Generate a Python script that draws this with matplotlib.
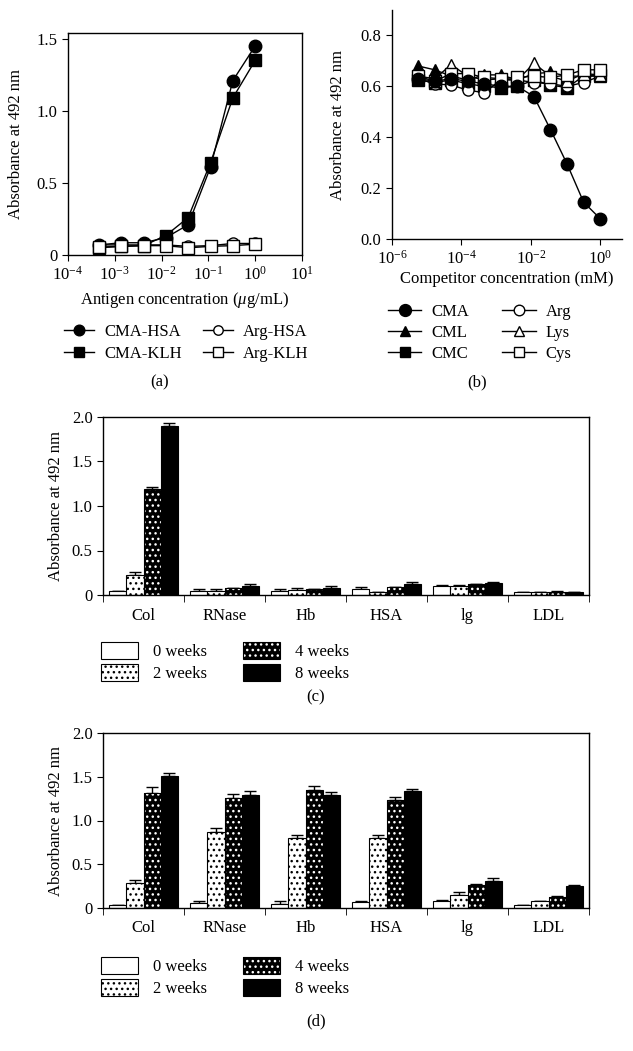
import numpy as np
import matplotlib
matplotlib.use("Agg")
import matplotlib.pyplot as plt
from matplotlib.patches import Patch
from matplotlib.legend_handler import HandlerTuple

plt.rcParams['font.family'] = ['Liberation Serif', 'DejaVu Serif']
plt.rcParams['mathtext.fontset'] = 'custom'
plt.rcParams['mathtext.rm'] = 'Liberation Serif'
plt.rcParams['mathtext.it'] = 'Liberation Serif:italic'
plt.rcParams['font.size'] = 12
plt.rcParams['axes.linewidth'] = 1.0
plt.rcParams['hatch.linewidth'] = 1.0

# ---- panel (a): antigen titration ----
antigen_conc = [0.000457, 0.00137, 0.00412, 0.0123, 0.037, 0.111, 0.333, 1.0]
cma_hsa = [0.07, 0.085, 0.085, 0.12, 0.21, 0.61, 1.21, 1.45]
cma_klh = [0.05, 0.06, 0.065, 0.135, 0.26, 0.64, 1.09, 1.35]
arg_hsa = [0.07, 0.07, 0.07, 0.07, 0.06, 0.065, 0.08, 0.08]
arg_klh = [0.055, 0.06, 0.065, 0.065, 0.05, 0.06, 0.065, 0.075]

# ---- panel (b): competition ----
comp_conc = [3.0 ** -k for k in range(11, -1, -1)]
cma = [0.63, 0.62, 0.63, 0.62, 0.61, 0.60, 0.60, 0.56, 0.43, 0.295, 0.145, 0.08]
cml = [0.68, 0.665, 0.64, 0.625, 0.645, 0.645, 0.625, 0.65, 0.655, 0.64, 0.64, 0.64]
cmc = [0.625, 0.615, 0.625, 0.61, 0.60, 0.595, 0.60, 0.625, 0.605, 0.595, 0.64, 0.645]
arg = [0.63, 0.61, 0.605, 0.585, 0.575, 0.625, 0.625, 0.615, 0.61, 0.60, 0.615, 0.64]
lys = [0.64, 0.63, 0.685, 0.64, 0.625, 0.63, 0.625, 0.69, 0.64, 0.62, 0.65, 0.645]
cys = [0.64, 0.62, 0.65, 0.65, 0.635, 0.63, 0.635, 0.64, 0.635, 0.645, 0.665, 0.665]

# ---- panels (c) and (d): bar charts ----
proteins = ['Col', 'RNase', 'Hb', 'HSA', 'lg', 'LDL']
weeks = ['0 weeks', '2 weeks', '4 weeks', '8 weeks']
c_vals = [[0.04, 0.045, 0.05, 0.07, 0.10, 0.03],
          [0.23, 0.05, 0.055, 0.035, 0.10, 0.03],
          [1.19, 0.08, 0.065, 0.085, 0.125, 0.035],
          [1.90, 0.10, 0.08, 0.125, 0.13, 0.035]]
c_err = [[0.0, 0.02, 0.015, 0.015, 0.015, 0.0],
         [0.025, 0.02, 0.02, 0.0, 0.01, 0.0],
         [0.02, 0.0, 0.0, 0.0, 0.0, 0.01],
         [0.03, 0.025, 0.02, 0.02, 0.015, 0.0]]
d_vals = [[0.04, 0.06, 0.05, 0.07, 0.08, 0.03],
          [0.29, 0.87, 0.80, 0.80, 0.15, 0.085],
          [1.31, 1.26, 1.35, 1.23, 0.265, 0.125],
          [1.51, 1.29, 1.29, 1.34, 0.31, 0.255]]
d_err = [[0.0, 0.02, 0.035, 0.015, 0.015, 0.0],
         [0.025, 0.05, 0.04, 0.04, 0.03, 0.0],
         [0.075, 0.045, 0.04, 0.04, 0.01, 0.01],
         [0.035, 0.045, 0.04, 0.02, 0.035, 0.01]]

W, H = 633, 1051
fig = plt.figure(figsize=(W / 100, H / 100), dpi=100)


def box(l, t, r, b):
    return [l / W, 1 - b / H, (r - l) / W, (b - t) / H]


def fig_y(y):
    return 1 - y / H


# panel a
ax = fig.add_axes(box(68, 33, 302, 255))
ax.plot(antigen_conc, cma_hsa, '-o', color='black', mfc='black', ms=9, lw=1, label='CMA-HSA', zorder=4)
ax.plot(antigen_conc, cma_klh, '-s', color='black', mfc='black', ms=9, lw=1, label='CMA-KLH', zorder=3)
ax.plot(antigen_conc, arg_hsa, '-o', color='black', mfc='white', ms=8, lw=1, label='Arg-HSA', zorder=3)
ax.plot(antigen_conc, arg_klh, '-s', color='black', mfc='white', ms=9, lw=1, label='Arg-KLH', zorder=4)
ax.set_xscale('log')
ax.set_xlim(1e-4, 1e1)
ax.set_ylim(0, 1.54)
ax.set_xticks([1e-4, 1e-3, 1e-2, 1e-1, 1e0, 1e1])
ax.minorticks_off()
ax.set_yticks([0, 0.5, 1.0, 1.5])
ax.set_yticklabels(['0', '0.5', '1.0', '1.5'])
ax.tick_params(direction='out', length=4, labelsize=12)
ax.set_xlabel(r'Antigen concentration ($\mu$g/mL)', fontsize=12, labelpad=5)
ax.set_ylabel('Absorbance at 492 nm', fontsize=12)
ax.yaxis.set_label_coords(-0.19, 0.5)
ax.legend(ncol=2, loc='upper left', bbox_to_anchor=(64 / W, fig_y(324)),
          bbox_transform=fig.transFigure, frameon=False, fontsize=12,
          handlelength=1.8, handletextpad=0.6, columnspacing=1.3,
          labelspacing=0.35, borderaxespad=0, borderpad=0, markerscale=0.85)
fig.text(160 / W, fig_y(382), '(a)', ha='center', va='center', fontsize=12)

# panel b
ax = fig.add_axes(box(392, 10, 622, 239))
ms = 8
ax.plot(comp_conc, cma, '-o', color='black', mfc='black', ms=ms + 1, lw=1, label='CMA', zorder=5)
ax.plot(comp_conc, cml, '-^', color='black', mfc='black', ms=ms, lw=1, label='CML', zorder=3)
ax.plot(comp_conc, cmc, '-s', color='black', mfc='black', ms=ms, lw=1, label='CMC', zorder=3)
ax.plot(comp_conc, arg, '-o', color='black', mfc='white', ms=ms, lw=1, label='Arg', zorder=4)
ax.plot(comp_conc, lys, '-^', color='black', mfc='white', ms=ms, lw=1, label='Lys', zorder=4)
ax.plot(comp_conc, cys, '-s', color='black', mfc='white', ms=ms, lw=1, label='Cys', zorder=4)
ax.set_xscale('log')
ax.set_xlim(1e-6, 10 ** 0.63)
ax.set_ylim(0, 0.9)
ax.set_xticks([1e-6, 1e-4, 1e-2, 1e0])
ax.minorticks_off()
ax.set_yticks([0, 0.2, 0.4, 0.6, 0.8])
ax.set_yticklabels(['0.0', '0.2', '0.4', '0.6', '0.8'])
ax.spines['top'].set_visible(False)
ax.spines['right'].set_visible(False)
ax.tick_params(direction='out', length=4, labelsize=12)
ax.set_xlabel('Competitor concentration (mM)', fontsize=12, labelpad=3)
ax.set_ylabel('Absorbance at 492 nm', fontsize=12)
ax.yaxis.set_label_coords(-0.2, 0.5)
ax.legend(ncol=2, loc='upper left', bbox_to_anchor=(388 / W, fig_y(304)),
          bbox_transform=fig.transFigure, frameon=False, fontsize=12,
          handlelength=2.0, handletextpad=0.6, columnspacing=2.0,
          labelspacing=0.3, borderaxespad=0, borderpad=0, markerscale=0.95)
fig.text(477 / W, fig_y(382), '(b)', ha='center', va='center', fontsize=12)


def bar_panel(rect, vals, errs, leg_top, tag, tag_y):
    ax = fig.add_axes(rect)
    x = np.arange(len(proteins))
    bw = 0.21
    offs = [-1.5 * bw, -0.5 * bw, 0.5 * bw, 1.5 * bw]
    handles = []
    for i in range(4):
        pos = x + offs[i]
        if i == 0:
            ax.bar(pos, vals[i], bw, color='white', edgecolor='black', lw=0.8, zorder=2)
            handles.append(Patch(facecolor='white', edgecolor='black', lw=0.8))
        elif i == 1:
            ax.bar(pos, vals[i], bw, color='white', edgecolor='black', hatch='...', lw=0.8, zorder=2)
            handles.append(Patch(facecolor='white', edgecolor='black', hatch='...', lw=0.8))
        elif i == 2:
            ax.bar(pos, vals[i], bw, color='black', edgecolor='white', hatch='...', lw=0, zorder=2)
            ax.bar(pos, vals[i], bw, fill=False, edgecolor='black', lw=0.8, zorder=3)
            handles.append((Patch(facecolor='black', edgecolor='white', hatch='...', lw=0),
                            Patch(fill=False, edgecolor='black', lw=0.8)))
        else:
            ax.bar(pos, vals[i], bw, color='black', edgecolor='black', lw=0.8, zorder=2)
            handles.append(Patch(facecolor='black', edgecolor='black', lw=0.8))
        e = np.array(errs[i])
        ax.errorbar(pos, vals[i], yerr=[np.zeros_like(e), e], fmt='none',
                    ecolor='black', elinewidth=1, capsize=4, capthick=1, zorder=1)
    ax.set_xlim(-0.5, len(proteins) - 0.5)
    ax.set_ylim(0, 2.0)
    ax.set_yticks([0, 0.5, 1.0, 1.5, 2.0])
    ax.set_yticklabels(['0', '0.5', '1.0', '1.5', '2.0'])
    ax.set_xticks(x)
    ax.set_xticklabels(proteins)
    ax.set_xticks(np.arange(len(proteins) + 1) - 0.5, minor=True)
    ax.tick_params(axis='x', which='major', length=0, pad=9, labelsize=12)
    ax.tick_params(axis='x', which='minor', direction='out', length=5)
    ax.tick_params(axis='y', direction='out', length=4, labelsize=12)
    ax.set_ylabel('Absorbance at 492 nm', fontsize=12)
    ax.yaxis.set_label_coords(-0.08, 0.5)
    ax.legend(handles, weeks, ncol=2, loc='upper left',
              bbox_to_anchor=(101 / W, fig_y(leg_top)), bbox_transform=fig.transFigure,
              frameon=False, fontsize=12, handlelength=2.2, handleheight=1.2,
              handletextpad=0.9, columnspacing=2.2, labelspacing=0.2,
              borderaxespad=0, borderpad=0,
              handler_map={tuple: HandlerTuple(ndivide=1, pad=0)})
    fig.text(316 / W, fig_y(tag_y), tag, ha='center', va='center', fontsize=12)
    return ax


bar_panel(box(103, 417, 589, 595), c_vals, c_err, 642, '(c)', 697)
bar_panel(box(103, 733, 589, 908), d_vals, d_err, 957, '(d)', 1021)

fig.savefig('out.png', dpi=100)
